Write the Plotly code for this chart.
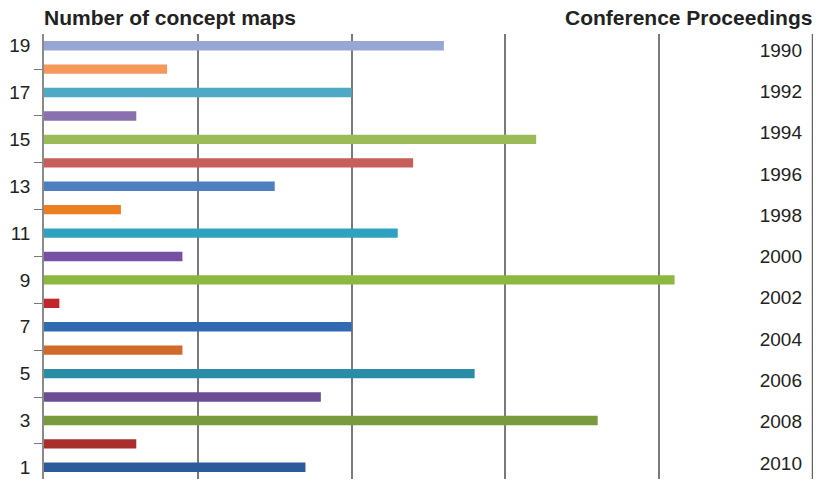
import plotly.graph_objects as go

categories = list(range(1, 20))
values = [17, 6, 36, 18, 28, 9, 20, 1, 41, 9, 23, 5, 15, 24, 32, 6, 20, 8, 26]
colors = ["#2B5C99", "#A8302C", "#7A9A3E", "#6B4D94", "#2A8DA8", "#D0692B",
          "#2F6AB3", "#C0282B", "#8DB83F", "#7650A3", "#30A2C1", "#EE7E22",
          "#4F7FC0", "#C65E5A", "#9BBB59", "#8A70AE", "#4DA9C4", "#F5985A", "#97A7D5"]
left_ticks = [1, 3, 5, 7, 9, 11, 13, 15, 17, 19]
years = [1990, 1992, 1994, 1996, 1998, 2000, 2002, 2004, 2006, 2008, 2010]

font_family = "Liberation Sans, Arial, sans-serif"

fig = go.Figure()
fig.add_trace(go.Bar(
    y=categories, x=values, orientation="h",
    marker=dict(color=colors, line=dict(width=0)),
    width=0.4, hoverinfo="skip", showlegend=False,
))
fig.add_trace(go.Scatter(
    x=[0] * len(years), y=years, yaxis="y2", mode="markers",
    marker=dict(opacity=0), hoverinfo="skip", showlegend=False,
))

fig.update_layout(
    width=822, height=481,
    margin=dict(l=44, r=9, t=34, b=2),
    paper_bgcolor="white", plot_bgcolor="white",
    font=dict(family=font_family, color="#222"),
    xaxis=dict(
        range=[0, 50], tickvals=[10, 20, 30, 40], showticklabels=False,
        showgrid=True, gridcolor="#7a7a7a", gridwidth=1.5,
        zeroline=False, showline=False, fixedrange=True,
    ),
    yaxis=dict(
        range=[0.5, 19.5], tickvals=left_ticks, ticktext=[str(t) for t in left_ticks],
        ticks="", tickfont=dict(size=19, color="#222"), ticklabelstandoff=8,
        showgrid=False, zeroline=False,
        showline=True, linecolor="#8a8a8a", linewidth=1.5,
        minor=dict(ticks="outside", tick0=2, dtick=2, ticklen=8,
                   tickcolor="#777", tickwidth=1, showgrid=False),
    ),
    yaxis2=dict(
        overlaying="y", side="right", anchor="x",
        range=[2010.77, 1989.23], tickvals=years, ticktext=[str(y) for y in years],
        ticks="", ticklabelposition="inside", ticklabelstandoff=8,
        tickfont=dict(size=19, color="#222"),
        showgrid=False, zeroline=False, showline=False,
    ),
    shapes=[
        dict(type="line", xref="x", yref="paper", x0=50, x1=50, y0=0, y1=1,
             line=dict(color="#666", width=2.5)),
    ],
    annotations=[
        dict(text="<b>Number of concept maps</b>", xref="paper", yref="paper",
             x=0, y=1, xshift=-2, yshift=17, xanchor="left", yanchor="middle",
             showarrow=False, font=dict(size=21, color="#222")),
        dict(text="<b>Conference Proceedings</b>", xref="paper", yref="paper",
             x=1, y=1, xshift=1, yshift=17, xanchor="right", yanchor="middle",
             showarrow=False, font=dict(size=21, color="#222")),
    ],
)

fig.write_html("out.html")
